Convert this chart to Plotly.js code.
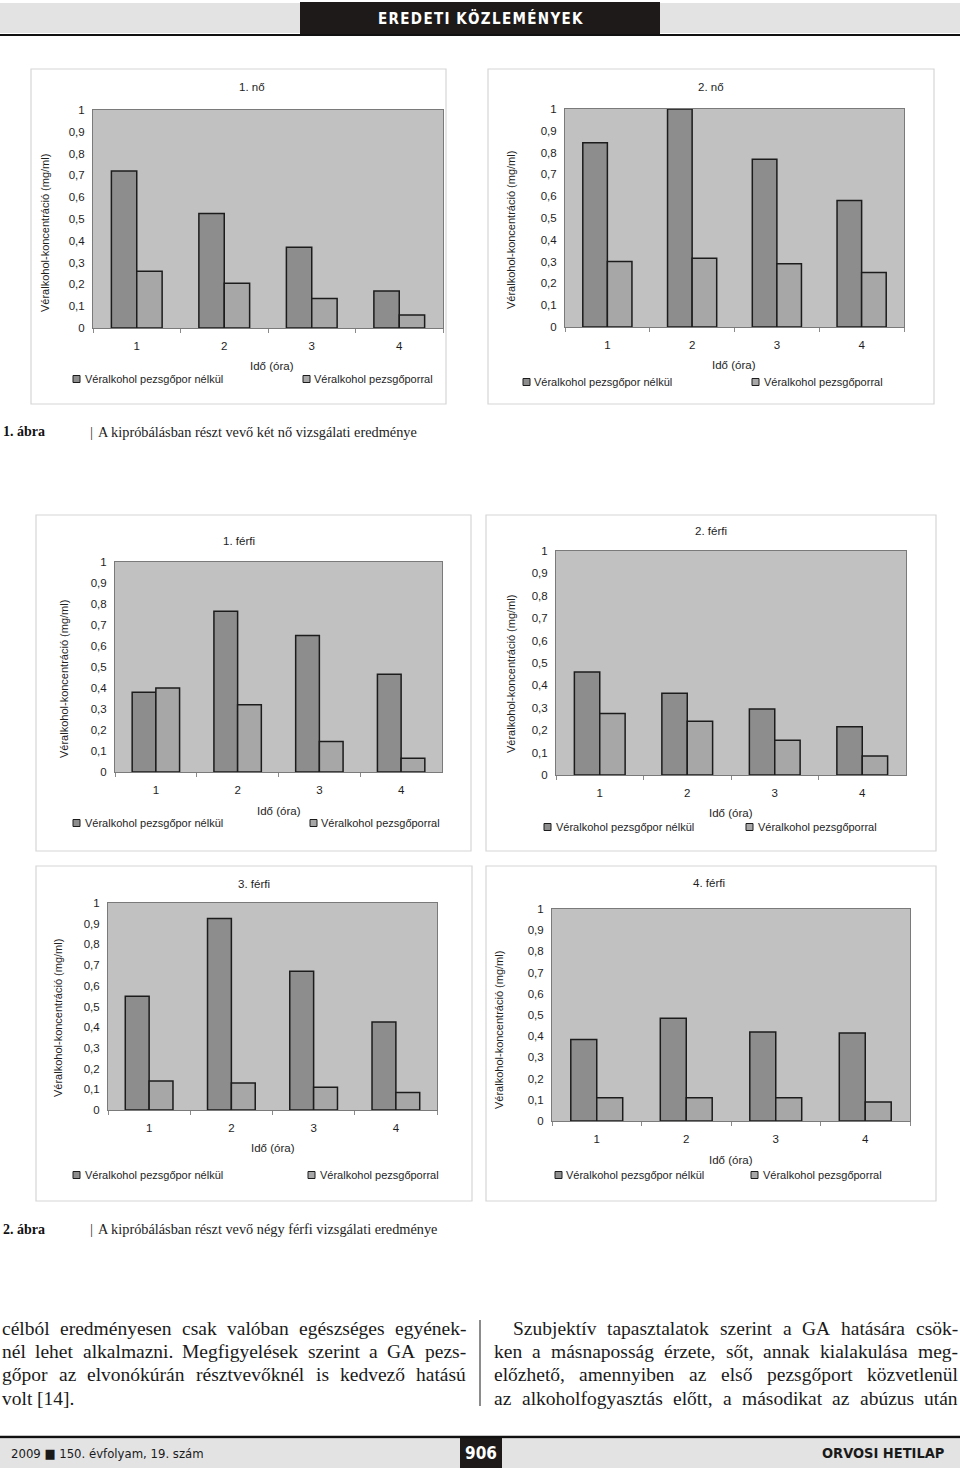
<!DOCTYPE html>
<html><head><meta charset="utf-8">
<script src="https://cdn.plot.ly/plotly-3.0.1.min.js"></script>
<style>html,body{margin:0;padding:0;background:#fff}#chart{width:960px;height:1470px}</style>
</head><body><div id="chart"></div>
<script>
// ---------- DATA ----------
const hours = ['1', '2', '3', '4'];
const seriesNames = ['Véralkohol pezsgőpor nélkül', 'Véralkohol pezsgőporral'];
const chartTitles = ['1. nő', '2. nő', '1. férfi', '2. férfi', '3. férfi', '4. férfi'];
const yAxisTitle = 'Véralkohol-koncentráció (mg/ml)';
const xAxisTitle = 'Idő (óra)';
const yTickValues = [0, 0.1, 0.2, 0.3, 0.4, 0.5, 0.6, 0.7, 0.8, 0.9, 1];

const no1Nelkul = [0.72, 0.525, 0.37, 0.17];
const no1Porral = [0.26, 0.205, 0.135, 0.06];
const no2Nelkul = [0.845, 1.0, 0.77, 0.58];
const no2Porral = [0.30, 0.315, 0.29, 0.25];
const ferfi1Nelkul = [0.38, 0.765, 0.65, 0.465];
const ferfi1Porral = [0.40, 0.32, 0.145, 0.065];
const ferfi2Nelkul = [0.46, 0.365, 0.295, 0.215];
const ferfi2Porral = [0.275, 0.24, 0.155, 0.085];
const ferfi3Nelkul = [0.55, 0.925, 0.67, 0.425];
const ferfi3Porral = [0.14, 0.13, 0.11, 0.085];
const ferfi4Nelkul = [0.385, 0.485, 0.42, 0.415];
const ferfi4Porral = [0.11, 0.11, 0.11, 0.09];

const headerText = 'EREDETI KÖZLEMÉNYEK';
const caption1Label = '1. ábra';
const caption1Text = 'A kipróbálásban részt vevő két nő vizsgálati eredménye';
const caption2Label = '2. ábra';
const caption2Text = 'A kipróbálásban részt vevő négy férfi vizsgálati eredménye';
const leftColumnLines = [
  'célból eredményesen csak valóban egészséges egyének-',
  'nél lehet alkalmazni. Megfigyelések szerint a GA pezs-',
  'gőpor az elvonókúrán résztvevőknél is kedvező hatású',
  'volt [14].'
];
const rightColumnLines = [
  'Szubjektív tapasztalatok szerint a GA hatására csök-',
  'ken a másnaposság érzete, sőt, annak kialakulása meg-',
  'előzhető, amennyiben az első pezsgőport közvetlenül',
  'az alkoholfogyasztás előtt, a másodikat az abúzus után'
];
const footerLeft = '2009 ■ 150. évfolyam, 19. szám';
const footerPage = '906';
const footerRight = 'ORVOSI HETILAP';

const panelData = [
  [no1Nelkul, no1Porral], [no2Nelkul, no2Porral],
  [ferfi1Nelkul, ferfi1Porral], [ferfi2Nelkul, ferfi2Porral],
  [ferfi3Nelkul, ferfi3Porral], [ferfi4Nelkul, ferfi4Porral]
];

// ---------- GEOMETRY / STYLE ----------
const W = 960, H = 1470;
const px = x => x / W;
const py = y => 1 - y / H;
const panels = [
  {plot:{l:93,r:443,t:110,b:328}, frame:[31,446,69,404], title:[252,87], yt:[45,233], xt:[272,366], leg:{y:379,m1:77,t1:84,m2:307,t2:313}},
  {plot:{l:565,r:904,t:109,b:327}, frame:[488,934,69,404], title:[711,87], yt:[511,230], xt:[734,365], leg:{y:382,m1:527,t1:533,m2:756,t2:763}},
  {plot:{l:115,r:442,t:562,b:772}, frame:[36,471,515,851], title:[239,541], yt:[64,679], xt:[279,811], leg:{y:823,m1:77,t1:84,m2:314,t2:320}},
  {plot:{l:556,r:906,t:551,b:775}, frame:[486,936,515,851], title:[711,531], yt:[511,674], xt:[731,813], leg:{y:827,m1:548,t1:555,m2:750,t2:757}},
  {plot:{l:108,r:437,t:903,b:1110}, frame:[36,472,866,1201], title:[254,884], yt:[58,1018], xt:[273,1148], leg:{y:1175,m1:77,t1:84,m2:312,t2:319}},
  {plot:{l:552,r:910,t:909,b:1121}, frame:[486,936,866,1201], title:[709,883], yt:[499,1030], xt:[731,1160], leg:{y:1175,m1:559,t1:565,m2:755,t2:762}}
];

const SANS = 'Liberation Sans, Arial, sans-serif';
const NARROW = 'Liberation Sans Narrow, DejaVu Sans Condensed, Liberation Sans, sans-serif';
const SERIF = 'Liberation Serif, Times New Roman, serif';
const TXT = '#1e1e1e';
const seriesColors = ['#8d8d8d', '#a7a7a7'];
const plotBg = '#c1c1c1';

const data = [];
const layout = {
  width: W, height: H,
  margin: {l: 0, r: 0, t: 0, b: 0},
  paper_bgcolor: '#ffffff',
  plot_bgcolor: 'rgba(0,0,0,0)',
  separators: ', ',
  showlegend: false,
  barmode: 'group',
  bargap: 0.42,
  bargroupgap: 0,
  font: {family: SANS, size: 11, color: TXT},
  shapes: [],
  annotations: []
};

function ann(text, x, y, opts) {
  return Object.assign({text: text, x: px(x), y: py(y), xref: 'paper', yref: 'paper',
    showarrow: false, xanchor: 'center', yanchor: 'middle', borderpad: 0,
    font: {family: SANS, size: 11, color: TXT}}, opts || {});
}
function rect(x0, x1, y0, y1, fill, line, lw, layer) {
  return {type: 'rect', xref: 'paper', yref: 'paper', x0: px(x0), x1: px(x1), y0: py(y1), y1: py(y0),
    fillcolor: fill, line: {color: line || fill, width: lw === undefined ? 0 : lw}, layer: layer || 'below'};
}
function hline(x0, x1, y, color, w) {
  return {type: 'line', xref: 'paper', yref: 'paper', x0: px(x0), x1: px(x1), y0: py(y), y1: py(y),
    line: {color: color, width: w}, layer: 'above'};
}

panels.forEach((p, i) => {
  const n = i + 1;
  const xa = 'xaxis' + (n === 1 ? '' : n), ya = 'yaxis' + (n === 1 ? '' : n);
  const xr = 'x' + (n === 1 ? '' : n), yr = 'y' + (n === 1 ? '' : n);
  layout.shapes.push(rect(p.frame[0], p.frame[1], p.frame[2], p.frame[3], '#ffffff', '#d6d6d6', 1.2));
  layout.shapes.push(rect(p.plot.l, p.plot.r, p.plot.t, p.plot.b, plotBg, plotBg, 0));
  layout[xa] = {
    domain: [px(p.plot.l), px(p.plot.r)], anchor: yr, type: 'category',
    showgrid: false, zeroline: false, showline: true, mirror: true, linecolor: '#7a7a7a', linewidth: 1,
    ticks: 'outside', tickson: 'boundaries', ticklen: 4, tickcolor: '#8a8a8a',
    tickfont: {family: SANS, size: 11.5, color: TXT}, ticklabelstandoff: 7, fixedrange: true
  };
  layout[ya] = {
    domain: [py(p.plot.b), py(p.plot.t)], anchor: xr, range: [0, 1],
    tickvals: yTickValues, showgrid: false, zeroline: false, showline: true, mirror: true,
    linecolor: '#7a7a7a', linewidth: 1, ticks: '', ticklabelstandoff: 5,
    tickfont: {family: SANS, size: 11.5, color: TXT}, fixedrange: true
  };
  panelData[i].forEach((vals, s) => {
    data.push({
      type: 'bar', x: hours, y: vals, name: seriesNames[s], xaxis: xr, yaxis: yr,
      marker: {color: seriesColors[s], line: {color: '#1c1c1c', width: 1.5}},
      hoverinfo: 'x+y+name', cliponaxis: false
    });
  });
  layout.annotations.push(ann(chartTitles[i], p.title[0], p.title[1], {font: {family: SANS, size: 11.5, color: TXT}}));
  layout.annotations.push(ann(yAxisTitle, p.yt[0], p.yt[1], {textangle: -90, font: {family: SANS, size: 11, color: TXT}}));
  layout.annotations.push(ann(xAxisTitle, p.xt[0], p.xt[1], {font: {family: SANS, size: 11.5, color: TXT}}));
  const L = p.leg;
  layout.shapes.push(rect(L.m1 - 4, L.m1 + 3, L.y - 3.5, L.y + 3.5, seriesColors[0], '#1c1c1c', 1, 'above'));
  layout.shapes.push(rect(L.m2 - 4, L.m2 + 3, L.y - 3.5, L.y + 3.5, seriesColors[1], '#1c1c1c', 1, 'above'));
  layout.annotations.push(ann(seriesNames[0], L.t1, L.y, {xanchor: 'left', font: {family: SANS, size: 11, color: TXT}}));
  layout.annotations.push(ann(seriesNames[1], L.t2, L.y, {xanchor: 'left', font: {family: SANS, size: 11, color: TXT}}));
});

// ---------- HEADER ----------
const spaced = (t, sep) => t.split('').map(c => c === ' ' ? sep + sep + sep : c).join(sep);
layout.shapes.push(rect(0, 960, 3, 33, '#e3e3e3'));
layout.shapes.push(rect(300, 660, 2, 35, '#1e1a1a'));
layout.shapes.push(hline(0, 960, 35, '#111111', 2));
layout.annotations.push(ann(spaced(headerText, '\u200A'), 480, 19,
  {font: {family: NARROW, size: 15, color: '#ffffff', weight: 'bold'}}));

// ---------- CAPTIONS ----------
[[caption1Label, caption1Text, 432], [caption2Label, caption2Text, 1229]].forEach(c => {
  layout.annotations.push(ann(c[0], 2, c[2], {xanchor: 'left', font: {family: SERIF, size: 14, color: '#111', weight: 'bold'}}));
  layout.annotations.push(ann('|', 89, c[2], {xanchor: 'left', font: {family: SERIF, size: 15, color: '#333'}}));
  layout.annotations.push(ann(c[1], 97, c[2], {xanchor: 'left', font: {family: SERIF, size: 14.3, color: '#222'}}));
});

// ---------- BODY TEXT (justified lines) ----------
const ctx = document.createElement('canvas').getContext('2d');
const BODY_SIZE = 19.5;
function addLine(text, x0, x1, y, justify) {
  const words = text.split(' ');
  ctx.font = BODY_SIZE + 'px "Liberation Serif"';
  const widths = words.map(w => ctx.measureText(w).width);
  const total = widths.reduce((a, b) => a + b, 0);
  const gap = (justify && words.length > 1) ? (x1 - x0 - total) / (words.length - 1) : ctx.measureText(' ').width;
  let x = x0;
  words.forEach((w, k) => {
    layout.annotations.push(ann(w, x, y, {xanchor: 'left', borderwidth: 0,
      font: {family: SERIF, size: BODY_SIZE, color: '#1a1a1a'}}));
    x += widths[k] + gap;
  });
}
const bodyY = [1328, 1351, 1374, 1398];
leftColumnLines.forEach((t, k) => addLine(t, 2, 466, bodyY[k], k < 3));
rightColumnLines.forEach((t, k) => addLine(t, k === 0 ? 513 : 494, 958, bodyY[k], true));
layout.shapes.push({type: 'line', xref: 'paper', yref: 'paper', x0: px(480), x1: px(480), y0: py(1320), y1: py(1406),
  line: {color: '#666', width: 1.5}});

// ---------- FOOTER ----------
layout.shapes.push(hline(0, 960, 1437, '#111111', 2.5));
layout.shapes.push(rect(0, 960, 1439, 1468, '#e3e3e3'));
layout.shapes.push(rect(460, 502, 1437, 1468, '#1e1a1a'));
layout.annotations.push(ann(footerLeft, 10, 1453, {xanchor: 'left', font: {family: NARROW, size: 13, color: '#1a1a1a'}}));
layout.annotations.push(ann(footerPage, 481, 1453, {font: {family: NARROW, size: 17, color: '#ffffff', weight: 'bold'}}));
layout.annotations.push(ann(footerRight, 946, 1453, {xanchor: 'right', font: {family: NARROW, size: 14.5, color: '#1a1a1a', weight: 'bold'}}));

Plotly.newPlot('chart', data, layout, {displayModeBar: false, staticPlot: true});
</script>
</body></html>
